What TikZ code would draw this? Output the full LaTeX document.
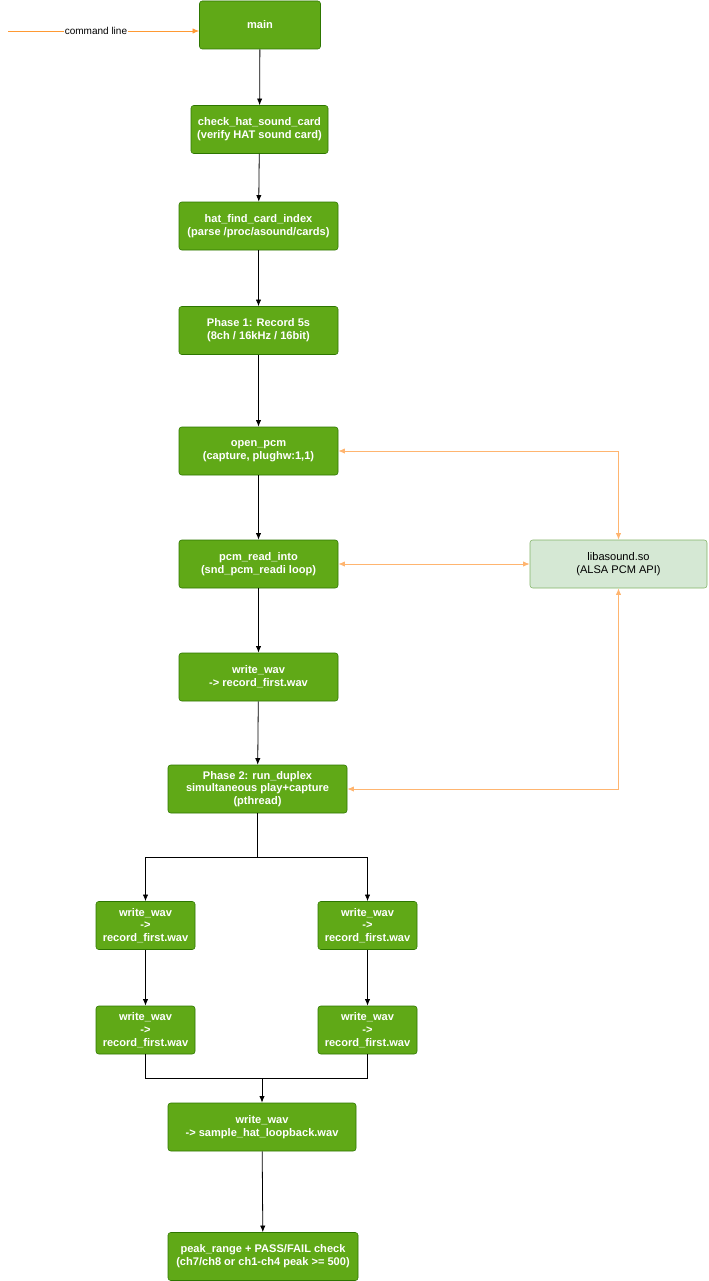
\documentclass[tikz,border=0pt]{standalone}
\usepackage{fontspec}
\setmainfont{Liberation Sans}
\usetikzlibrary{arrows.meta}
\definecolor{fg}{HTML}{60A917}
\definecolor{fd}{HTML}{2D7600}
\definecolor{lg}{HTML}{D5E8D4}
\definecolor{ld}{HTML}{82B366}
\definecolor{oc}{HTML}{FF9933}
\definecolor{ol}{HTML}{FFB570}

\tikzset{
  box/.style = {draw = fd, fill = fg, rounded corners = 2pt, text = white,
    font = \fontsize{8.3}{9.6}\selectfont\bfseries, align = center,
    minimum height = 36pt, inner sep = 1pt},
  lib/.style = {box, draw = ld, fill = lg, text = black, font = \fontsize{8.3}{9.6}\selectfont},
  flow/.style = {-{Latex[length=5pt,width=4pt]}, line width = 0.6pt},
  api/.style = {{Latex[length=5pt,width=4pt]}-{Latex[length=5pt,width=4pt]}, draw = ol, line width = 0.6pt}
}

\begin{document}
\begin{tikzpicture}[x = 0.75pt, y = -0.75pt]
\useasboundingbox (0,0) rectangle (708,1281);
\node[box, minimum width = 90.75pt] (main) at (260,25) {main};
\node[box, minimum width = 102.75pt] (check) at (259.5,129.5) {check\_hat\_sound\_card\\(verify HAT sound card)};
\node[box, minimum width = 119.25pt] (find) at (258.5,226) {hat\_find\_card\_index\\(parse /proc/asound/cards)};
\node[box, minimum width = 119.25pt] (ph1) at (258.5,330.5) {Phase 1: Record 5s\\(8ch / 16kHz / 16bit)};
\node[box, minimum width = 119.25pt] (open) at (258.5,451) {open\_pcm\\(capture, plughw:1,1)};
\node[box, minimum width = 119.25pt] (read) at (258.5,564) {pcm\_read\_into\\(snd\_pcm\_readi loop)};
\node[box, minimum width = 119.25pt] (wav1) at (258.5,677) {write\_wav\\-> record\_first.wav};
\node[box, minimum width = 134.25pt] (ph2) at (257.5,789) {Phase 2: run\_duplex\\simultaneous play+capture\\(pthread)};
\node[box, minimum width = 74.25pt] (la) at (145.5,925.5) {write\_wav\\->\\record\_first.wav};
\node[box, minimum width = 74.25pt] (lb) at (145.5,1030) {write\_wav\\->\\record\_first.wav};
\node[box, minimum width = 74.25pt] (ra) at (367.5,925.5) {write\_wav\\->\\record\_first.wav};
\node[box, minimum width = 74.25pt] (rb) at (367.5,1030) {write\_wav\\->\\record\_first.wav};
\node[box, minimum width = 141pt] (loop) at (262,1127) {write\_wav\\-> sample\_hat\_loopback.wav};
\node[box, minimum width = 142.5pt] (peak) at (263,1256.5) {peak\_range + PASS/FAIL check\\(ch7/ch8 or ch1-ch4 peak >= 500)};
\node[lib, minimum width = 132.75pt] (alsa) at (618.5,564) {libasound.so\\(ALSA PCM API)};
\coordinate (cli) at (8,31);

% main chain
\draw[flow] (main) -- (check);
\draw[flow] (check) -- (find);
\draw[flow] (find) -- (ph1);
\draw[flow] (ph1) -- (open);
\draw[flow] (open) -- (read);
\draw[flow] (read) -- (wav1);
\draw[flow] (wav1) -- (ph2);
\draw[flow] (ph2.south) -- ++(0,44) -| (la);
\draw[flow] (ph2.south) -- ++(0,44) -| (ra);
\draw[flow] (la) -- (lb);
\draw[flow] (ra) -- (rb);
\draw[line width = 0.6pt] (lb.south) -- ++(0,24) -| (rb.south);
\draw[flow] (loop.north |- 0,1078) -- (loop);
\draw[flow] (loop) -- (peak);

% input and library
\draw[-{Latex[length=5pt,width=4pt]}, draw = oc, line width = 0.6pt] (cli) -- (main.west |- cli)
  node[pos = 0.46, fill = white, inner sep = 1pt, font = \fontsize{7.5}{9}\selectfont] {command line};
\draw[api] (open.east) -| (alsa.north);
\draw[api] (read) -- (alsa);
\draw[api] (ph2.east) -| (alsa.south);
\end{tikzpicture}
\end{document}
